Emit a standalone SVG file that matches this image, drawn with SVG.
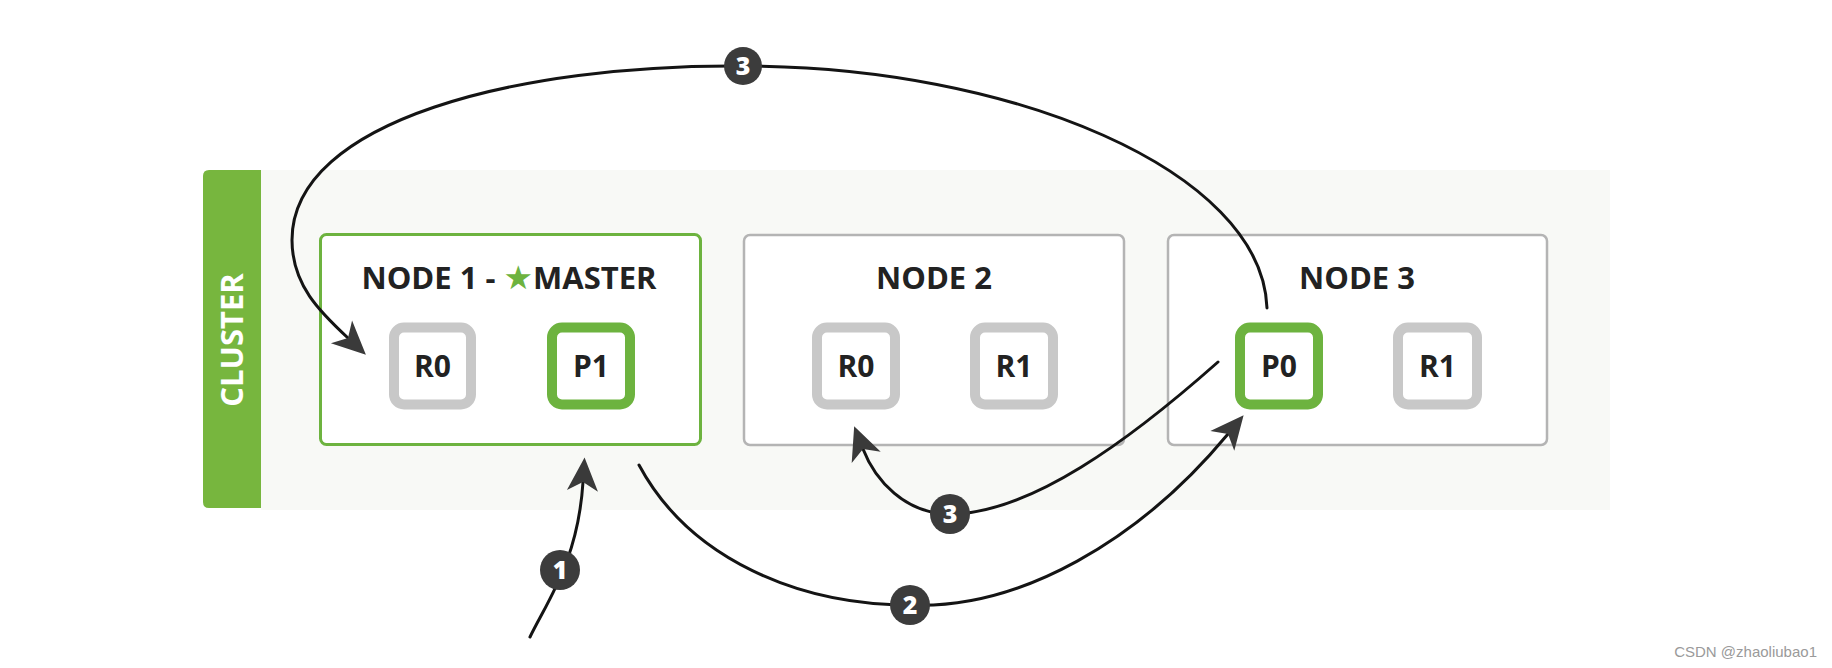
<svg xmlns="http://www.w3.org/2000/svg" width="1832" height="668" viewBox="0 0 1832 668">
  <style>
    .node { fill: #ffffff; stroke: #b4b4b4; stroke-width: 2.5; }
    .master { fill: #ffffff; stroke: #6db33f; stroke-width: 3; }
    .shard-r { fill: #ffffff; stroke: #c8c8c8; stroke-width: 10; }
    .shard-p { fill: #ffffff; stroke: #6db33f; stroke-width: 10; }
    .title { font-family: "Open Sans", "DejaVu Sans", sans-serif; font-weight: 700; font-size: 31px; fill: #222222; text-anchor: middle; }
    .shard-label { font-family: "Open Sans", "DejaVu Sans", sans-serif; font-weight: 700; font-size: 30px; fill: #222222; text-anchor: middle; }
    .conn { fill: none; stroke: #141414; stroke-width: 3; stroke-linecap: round; }
    .badge { fill: #3c3c3c; }
    .badge-text { font-family: "Open Sans", "DejaVu Sans", sans-serif; font-weight: 800; font-size: 25px; fill: #ffffff; text-anchor: middle; }
  </style>
  <defs>
    <marker id="arrow" markerUnits="userSpaceOnUse" markerWidth="40" markerHeight="40" viewBox="-12 -16 36 32" refX="0" refY="0" orient="auto" overflow="visible">
      <path d="M22,0 L-8,-14 L0,0 L-8,14 Z" fill="#3a3a3a"/>
    </marker>
  </defs>

  <rect width="1832" height="668" fill="#ffffff"/>

  <g id="cluster">
    <rect x="261" y="170" width="1349" height="340" fill="#f8f9f6"/>
    <path d="M261,170 L209,170 Q203,170 203,176 L203,502 Q203,508 209,508 L261,508 Z" fill="#77b63e"/>
    <text transform="translate(243,340) rotate(-90)" font-family="Open Sans, DejaVu Sans, sans-serif" font-weight="700" font-size="31" fill="#ffffff" text-anchor="middle">CLUSTER</text>
  </g>

  <g id="node1">
    <rect class="master" x="320.5" y="234.5" width="380" height="210" rx="6"/>
    <text class="title" x="509" y="289">NODE 1 - <tspan fill="#6db33f" font-family="DejaVu Sans, sans-serif" font-size="33">★</tspan>MASTER</text>
    <g id="node1-r0">
      <rect class="shard-r" x="394" y="327.5" width="77" height="77" rx="10"/>
      <text class="shard-label" x="432.5" y="377">R0</text>
    </g>
    <g id="node1-p1">
      <rect class="shard-p" x="552" y="327.5" width="78" height="77" rx="10"/>
      <text class="shard-label" x="591" y="377">P1</text>
    </g>
  </g>

  <g id="node2">
    <rect class="node" x="744" y="235" width="380" height="210" rx="6"/>
    <text class="title" x="934" y="289">NODE 2</text>
    <g id="node2-r0">
      <rect class="shard-r" x="817" y="327.5" width="78" height="77" rx="10"/>
      <text class="shard-label" x="856" y="377">R0</text>
    </g>
    <g id="node2-r1">
      <rect class="shard-r" x="975" y="327.5" width="78" height="77" rx="10"/>
      <text class="shard-label" x="1014" y="377">R1</text>
    </g>
  </g>

  <g id="node3">
    <rect class="node" x="1168" y="235" width="379" height="210" rx="6"/>
    <text class="title" x="1357" y="289">NODE 3</text>
    <g id="node3-p0">
      <rect class="shard-p" x="1240" y="327.5" width="78" height="77" rx="10"/>
      <text class="shard-label" x="1279" y="377">P0</text>
    </g>
    <g id="node3-r1">
      <rect class="shard-r" x="1398" y="327.5" width="79" height="77" rx="10"/>
      <text class="shard-label" x="1437.5" y="377">R1</text>
    </g>
  </g>

  <g id="connectors">
    <path class="conn" d="M530,637 C548,600 578,560 583,482" marker-end="url(#arrow)"/>
    <path class="conn" d="M639,465 C690,560 800,605 910,605 C1020,610 1140,540 1228,434" marker-end="url(#arrow)"/>
    <path class="conn" d="M1218,362 C1130,440 1030,514 950,514 C905,514 875,480 863,449" marker-end="url(#arrow)"/>
    <path class="conn" d="M1267,308 C1262,170 1010,66 743,66 C520,64 292,120 292,240 C292,285 320,312 348,338" marker-end="url(#arrow)"/>
  </g>

  <g id="badges">
    <g id="badge-1">
      <circle class="badge" cx="560" cy="570" r="20"/>
      <text class="badge-text" x="560" y="579">1</text>
    </g>
    <g id="badge-2">
      <circle class="badge" cx="910" cy="605" r="20"/>
      <text class="badge-text" x="910" y="614">2</text>
    </g>
    <g id="badge-3-low">
      <circle class="badge" cx="950" cy="514" r="20"/>
      <text class="badge-text" x="950" y="523">3</text>
    </g>
    <g id="badge-3-top">
      <circle class="badge" cx="743" cy="66" r="19"/>
      <text class="badge-text" x="743" y="75">3</text>
    </g>
  </g>

  <text x="1817" y="657" font-family="Liberation Sans, Arial, sans-serif" font-size="15" fill="#9a9a9a" text-anchor="end">CSDN @zhaoliubao1</text>
</svg>
